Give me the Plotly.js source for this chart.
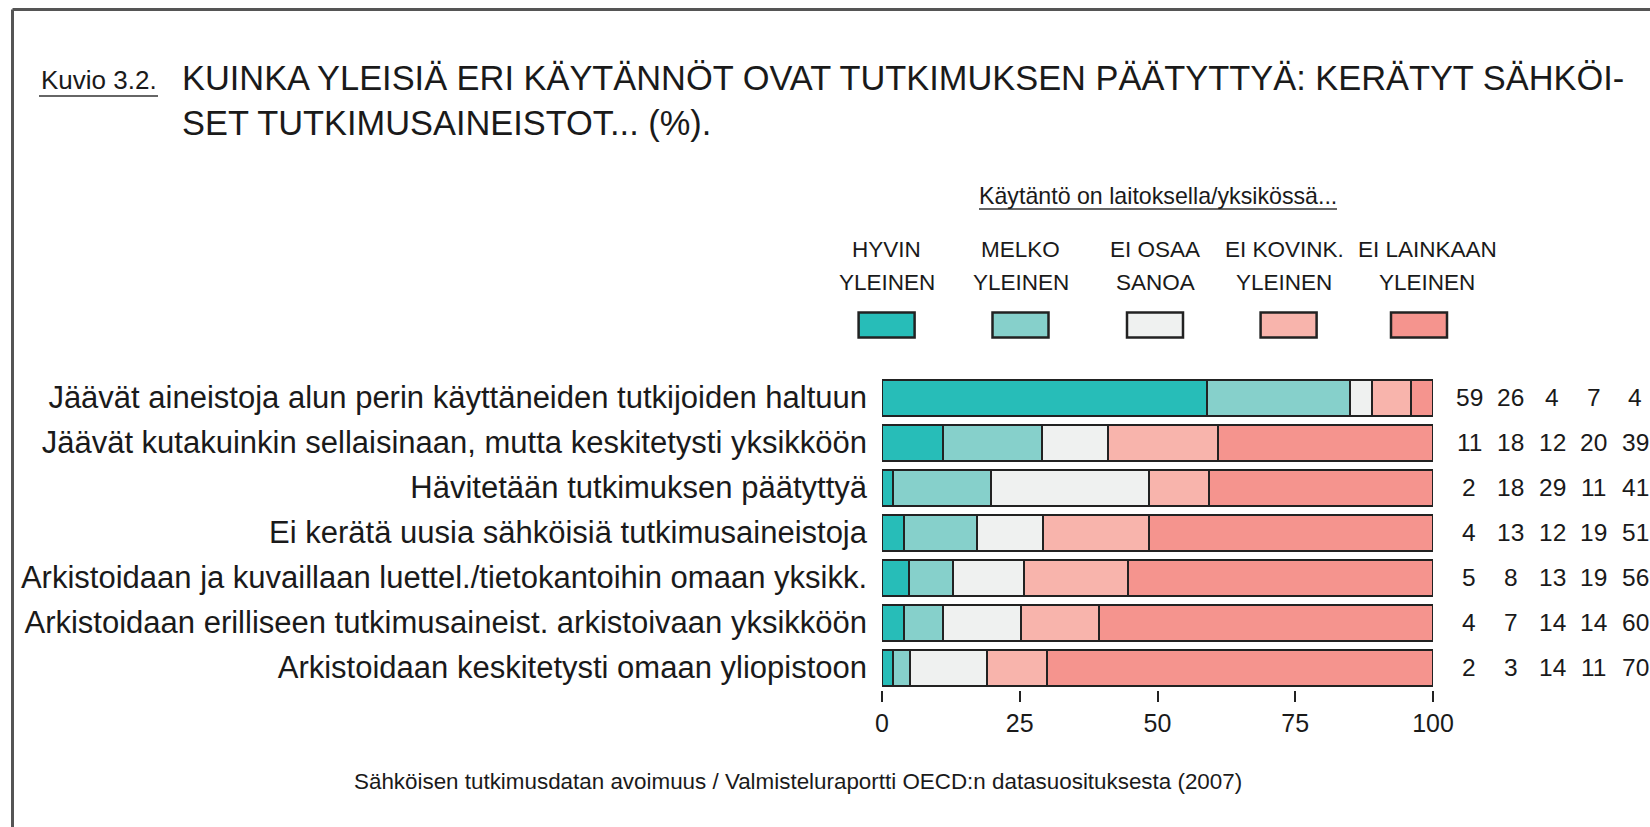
<!DOCTYPE html>
<html>
<head>
<meta charset="utf-8">
<script src="https://cdn.plot.ly/plotly-3.0.1.min.js"></script>
<style>
  html, body { margin: 0; padding: 0; background: #ffffff; }
  #chart { width: 1650px; height: 827px; }
</style>
</head>
<body>
<div id="chart"></div>
<script>
// ---- data ----
const categories = [
  "Jäävät aineistoja alun perin käyttäneiden tutkijoiden haltuun",
  "Jäävät kutakuinkin sellaisinaan, mutta keskitetysti yksikköön",
  "Hävitetään tutkimuksen päätyttyä",
  "Ei kerätä uusia sähköisiä tutkimusaineistoja",
  "Arkistoidaan ja kuvaillaan luettel./tietokantoihin omaan yksikk.",
  "Arkistoidaan erilliseen tutkimusaineist. arkistoivaan yksikköön",
  "Arkistoidaan keskitetysti omaan yliopistoon"
];
const seriesNames = [
  "HYVIN<br>YLEINEN",
  "MELKO<br>YLEINEN",
  "EI OSAA<br>SANOA",
  "EI KOVINK.<br>YLEINEN",
  "EI LAINKAAN<br>YLEINEN"
];
const hyvinYleinen     = [59, 11,  2,  4,  5,  4,  2];
const melkoYleinen     = [26, 18, 18, 13,  8,  7,  3];
const eiOsaaSanoa      = [ 4, 12, 29, 12, 13, 14, 14];
const eiKovinkYleinen  = [ 7, 20, 11, 19, 19, 14, 11];
const eiLainkaanYleinen= [ 4, 39, 41, 51, 56, 60, 70];
const xTickValues = [0, 25, 50, 75, 100];

const seriesValues = [hyvinYleinen, melkoYleinen, eiOsaaSanoa, eiKovinkYleinen, eiLainkaanYleinen];
const colors = ["#27bdb8", "#86d0cb", "#eff1f0", "#f8b4ac", "#f5948e"];

// ---- layout geometry (pixels) ----
const W = 1650, H = 827;
const L = 882, R = 1433, T = 375, B = 690;
const pw = R - L, ph = B - T;
const px = v => (v - L) / pw;
const py = v => (B - v) / ph;

const SANS = "Liberation Sans, Arial, Helvetica, sans-serif";
const INK = "#1a1a1a";

const traces = seriesValues.map((vals, i) => ({
  type: "bar",
  orientation: "h",
  name: seriesNames[i].replace("<br>", " "),
  x: vals,
  y: categories,
  marker: { color: colors[i], line: { color: "#222222", width: 2 } },
  hoverinfo: "x+y"
}));

const annotations = [];
const shapes = [];

// numbers on the right
seriesValues.forEach((vals, j) => {
  vals.forEach((v, i) => {
    annotations.push({
      xref: "paper", yref: "y", x: 1, y: categories[i],
      xshift: 36 + 41.5 * j, xanchor: "center", yanchor: "middle",
      text: String(v), showarrow: false,
      font: { family: SANS, size: 24.5, color: INK }
    });
  });
});

// legend
const legendX = [886.6, 1020.5, 1155, 1288.6, 1419];
const legendTextX = [886.6, 1020.5, 1155, 1284, 1427];
const legendLineY = [249, 282];
seriesNames.forEach((n, i) => {
  n.split("<br>").forEach((line, k) => {
    annotations.push({
      xref: "paper", yref: "paper", x: px(legendTextX[i]), y: py(legendLineY[k]),
      xanchor: "center", yanchor: "middle", text: line, showarrow: false,
      font: { family: SANS, size: 22.5, color: INK }
    });
  });
  shapes.push({
    type: "rect", xref: "paper", yref: "paper",
    x0: px(legendX[i] - 28), x1: px(legendX[i] + 28),
    y0: py(337.5), y1: py(312.5),
    fillcolor: colors[i], line: { color: "#222222", width: 2.5 }
  });
});
annotations.push({
  xref: "paper", yref: "paper", x: px(1157.5), y: py(196),
  xanchor: "center", yanchor: "middle",
  text: "Käytäntö on laitoksella/yksikössä...", showarrow: false,
  font: { family: SANS, size: 23.2, color: INK }
});
shapes.push({ type: "line", xref: "paper", yref: "paper",
  x0: px(979), x1: px(1337), y0: py(209), y1: py(209),
  line: { color: "#333333", width: 1.5 } });

// Kuvio label
annotations.push({
  xref: "paper", yref: "paper", x: px(39), y: py(80),
  xanchor: "left", yanchor: "middle", text: "Kuvio 3.2.", showarrow: false,
  font: { family: SANS, size: 26, color: INK }
});
shapes.push({ type: "line", xref: "paper", yref: "paper",
  x0: px(39), x1: px(158), y0: py(96), y1: py(96),
  line: { color: "#333333", width: 1.5 } });

// footnote
annotations.push({
  xref: "paper", yref: "paper", x: px(798), y: py(781),
  xanchor: "center", yanchor: "middle",
  text: "Sähköisen tutkimusdatan avoimuus / Valmisteluraportti OECD:n datasuosituksesta (2007)",
  showarrow: false, font: { family: SANS, size: 22.4, color: INK }
});

// frame lines (top and left)
shapes.push({ type: "line", xref: "paper", yref: "paper",
  x0: px(12.5), x1: px(1650), y0: py(9.5), y1: py(9.5),
  line: { color: "#555555", width: 3 } });
shapes.push({ type: "line", xref: "paper", yref: "paper",
  x0: px(12.5), x1: px(12.5), y0: py(9.5), y1: py(827),
  line: { color: "#555555", width: 3 } });

const layout = {
  width: W, height: H,
  margin: { l: L, r: W - R, t: T, b: H - B, pad: 0 },
  paper_bgcolor: "#ffffff", plot_bgcolor: "#ffffff",
  barmode: "stack", barnorm: "percent", bargap: 0.2,
  showlegend: false,
  title: {
    text: "KUINKA YLEISIÄ ERI KÄYTÄNNÖT OVAT TUTKIMUKSEN PÄÄTYTTYÄ: KERÄTYT SÄHKÖI-<br>SET TUTKIMUSAINEISTOT... (%).",
    x: 182 / W, xref: "container", xanchor: "left",
    y: 1 - 90 / H, yref: "container", yanchor: "top",
    font: { family: SANS, size: 34.4, color: INK }
  },
  xaxis: {
    range: [0, 100], tickvals: xTickValues, ticktext: xTickValues.map(String),
    ticks: "outside", ticklen: 11, tickwidth: 2, tickcolor: "#222222",
    showgrid: false, zeroline: false, showline: false,
    tickfont: { family: SANS, size: 25, color: INK }, fixedrange: true
  },
  yaxis: {
    type: "category", autorange: "reversed",
    ticks: "", showgrid: false, zeroline: false, showline: false,
    ticklabelstandoff: 14,
    tickfont: { family: SANS, size: 31, color: INK }, fixedrange: true
  },
  annotations: annotations,
  shapes: shapes
};

Plotly.newPlot("chart", traces, layout, { displayModeBar: false, responsive: false });
</script>
</body>
</html>
